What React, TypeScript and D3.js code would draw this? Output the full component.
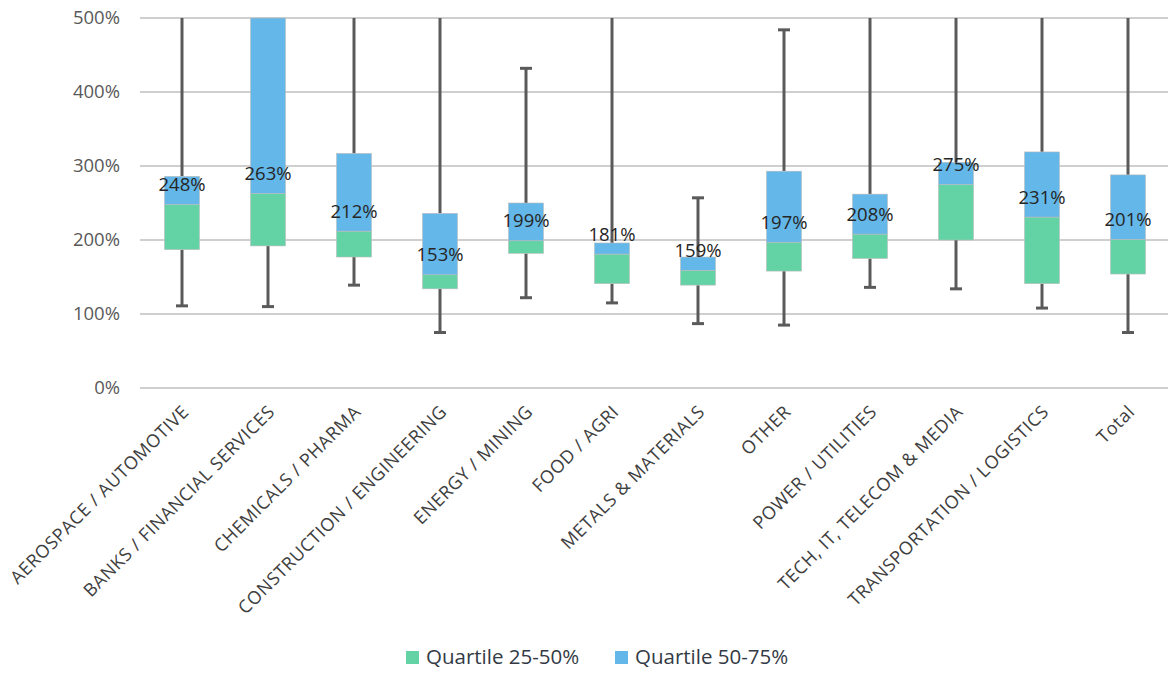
import React from "react";
import * as d3 from "d3";

const categories = [
  "AEROSPACE / AUTOMOTIVE",
  "BANKS / FINANCIAL SERVICES",
  "CHEMICALS / PHARMA",
  "CONSTRUCTION / ENGINEERING",
  "ENERGY / MINING",
  "FOOD / AGRI",
  "METALS & MATERIALS",
  "OTHER",
  "POWER / UTILITIES",
  "TECH, IT, TELECOM & MEDIA",
  "TRANSPORTATION / LOGISTICS",
  "Total",
];
// values in percent; whisker tops above 500% are off the chart (clipped)
const minValues = [111, 110, 139, 75, 122, 115, 87, 85, 136, 134, 108, 75];
const q1Values = [187, 192, 177, 134, 182, 141, 139, 158, 175, 200, 141, 154];
const medianValues = [248, 263, 212, 153, 199, 181, 159, 197, 208, 275, 231, 201];
const q3Values = [286, 520, 317, 236, 250, 196, 177, 293, 262, 305, 319, 288];
const maxValues = [600, 600, 600, 600, 432, 600, 257, 484, 600, 600, 600, 600];
const yTicks = [0, 100, 200, 300, 400, 500];
const seriesNames = ["Quartile 25-50%", "Quartile 50-75%"];
const seriesColors = ["#63D3A6", "#63B7E9"];

const W = 1169;
const H = 675;

export default function App() {
  const x = d3.scaleBand<string>().domain(categories).range([139, 1171]).paddingInner(0).paddingOuter(0);
  const y = d3.scaleLinear().domain([0, 500]).range([388, 18]).clamp(true);
  const bw = 35;
  const font = "'Open Sans', 'Noto Sans', sans-serif";
  const whisker = "#5a5a5a";

  return (
    <svg width={W} height={H} style={{ position: "absolute", left: 0, top: 0, background: "#fff" }} fontFamily={font}>
      {/* gridlines */}
      {yTicks.map((t) => (
        <g key={t}>
          <line x1={140} x2={1168} y1={y(t)} y2={y(t)} stroke="#cfcfcf" strokeWidth={2} />
          <text x={120} y={y(t)} dy="0.35em" textAnchor="end" fontSize={18.5} fill="#595959">
            {t + "%"}
          </text>
        </g>
      ))}
      {categories.map((c, i) => {
        const cx = (x(c) as number) + x.bandwidth() / 2;
        const yMin = y(minValues[i]);
        const yQ1 = y(q1Values[i]);
        const yMed = y(medianValues[i]);
        const yQ3 = y(q3Values[i]);
        const yMax = y(maxValues[i]);
        return (
          <g key={c}>
            <line x1={cx} x2={cx} y1={yQ1} y2={yMin} stroke={whisker} strokeWidth={3} />
            <line x1={cx - 6} x2={cx + 6} y1={yMin} y2={yMin} stroke={whisker} strokeWidth={3} />
            <line x1={cx} x2={cx} y1={yQ3} y2={yMax} stroke={whisker} strokeWidth={3} />
            {maxValues[i] <= 500 && (
              <line x1={cx - 6} x2={cx + 6} y1={yMax} y2={yMax} stroke={whisker} strokeWidth={3} />
            )}
            <rect x={cx - bw / 2} y={yMed} width={bw} height={yQ1 - yMed} fill={seriesColors[0]} stroke="#bcbcbc" strokeWidth={0.6} />
            <rect x={cx - bw / 2} y={yQ3} width={bw} height={yMed - yQ3} fill={seriesColors[1]} stroke="#bcbcbc" strokeWidth={0.6} />
            <text x={cx} y={yMed - 20} dy="0.35em" textAnchor="middle" fontSize={18.5} fill="#262626">
              {medianValues[i] + "%"}
            </text>
            <text
              transform={`translate(${cx - 1},${404}) rotate(-45)`}
              textAnchor="end"
              dy="0.7em"
              fontSize={18}
              letterSpacing={0.6}
              fill="#404040"
            >
              {c}
            </text>
          </g>
        );
      })}
      {/* legend */}
      {seriesNames.map((n, i) => {
        const lx = [406, 615][i];
        return (
          <g key={n}>
            <rect x={lx} y={651} width={13} height={13} fill={seriesColors[i]} />
            <text x={lx + 20} y={657} dy="0.35em" fontSize={20.5} fill="#333a45">
              {n}
            </text>
          </g>
        );
      })}
    </svg>
  );
}
